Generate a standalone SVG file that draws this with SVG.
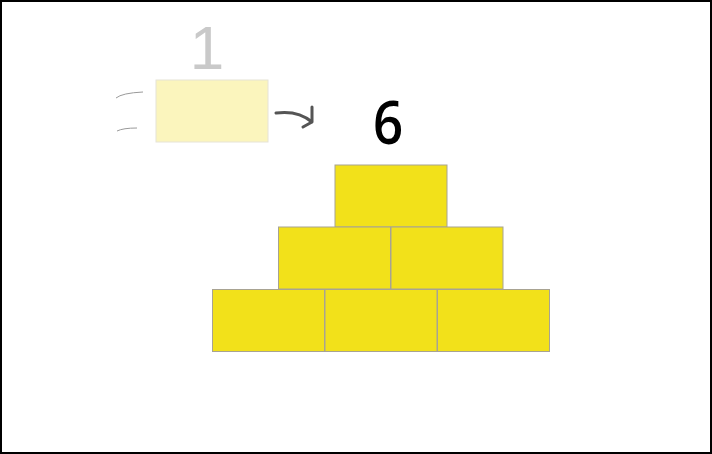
<svg xmlns="http://www.w3.org/2000/svg" width="712" height="454" viewBox="0 0 712 454">
<style>
.brick{fill:#f2e11a;stroke:#a8a392;stroke-width:1}
.ghost{fill:#fbf5bd;stroke:#e6e3d6;stroke-width:1}
.motion{fill:none;stroke:#9a9a9a;stroke-width:1}
.arrow{fill:none;stroke:#555;stroke-width:3;stroke-linecap:round;stroke-linejoin:round}
</style>
<rect x="1" y="1" width="710" height="452" fill="#fff" stroke="#000" stroke-width="2"/>
<g id="ghost-brick">
<text x="207" y="69" font-family="Liberation Sans, Arial, sans-serif" font-size="62" fill="#c9c9c9" text-anchor="middle">1</text>
<rect class="ghost" x="156" y="80" width="112" height="62"/>
<path class="motion" d="M116,98 Q122,93 143,92"/>
<path class="motion" d="M117,131 Q123,128 137,128"/>
</g>
<g id="connectors">
<path class="arrow" d="M276,113 Q298,110 312,122 M312,107 L312,122 L303,127"/>
</g>
<g id="count">
<text x="388" y="144" font-family="Open Sans, sans-serif" font-weight="600" font-size="60" fill="#000" text-anchor="middle" transform="translate(388 0) scale(0.88 1) translate(-388 0)">6</text>
</g>
<g id="pyramid">
<rect class="brick" x="335" y="165" width="112" height="62"/>
<rect class="brick" x="278.5" y="227" width="112" height="62"/>
<rect class="brick" x="391" y="227" width="112" height="62"/>
<rect class="brick" x="212.5" y="289.5" width="112" height="62"/>
<rect class="brick" x="325" y="289.5" width="112" height="62"/>
<rect class="brick" x="437.5" y="289.5" width="112" height="62"/>
</g>
</svg>
